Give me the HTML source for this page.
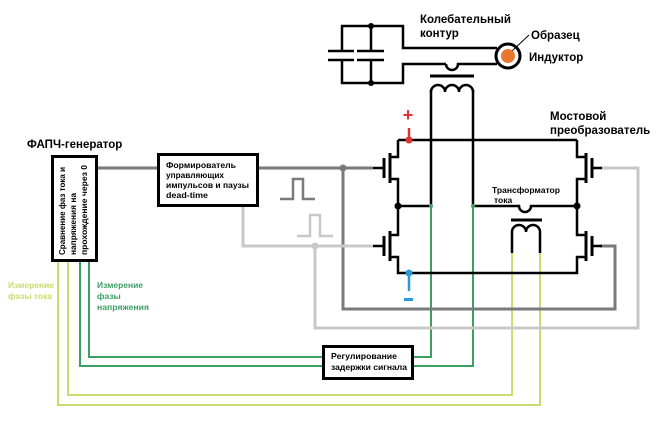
<!DOCTYPE html>
<html><head><meta charset="utf-8"><style>
html,body{margin:0;padding:0;background:#fff;}
svg{display:block;font-family:"Liberation Sans",sans-serif;font-weight:bold;}
</style></head><body>
<svg width="670" height="421" viewBox="0 0 670 421" xmlns="http://www.w3.org/2000/svg">
<rect width="670" height="421" fill="#fff"/>
<g fill="none" stroke-linejoin="miter">
<polyline points="68,261 68,395 512,395 512,253" stroke="#c9dc6f" stroke-width="2"/>
<polyline points="58,261 58,405 540,405 540,253" stroke="#c9dc6f" stroke-width="2"/>
<polyline points="89,261 89,357 323,357" stroke="#3c9f63" stroke-width="2"/>
<polyline points="80,261 80,366 323,366" stroke="#3c9f63" stroke-width="2"/>
<polyline points="413,357 431,357 431,206" stroke="#3c9f63" stroke-width="2"/>
<polyline points="413,366 473,366 473,206" stroke="#3c9f63" stroke-width="2"/>
<polyline points="97,168 158,168" stroke="#7a7a7a" stroke-width="3"/>
<polyline points="258,168 373,168" stroke="#7a7a7a" stroke-width="3"/>
<polyline points="343,168 343,309 615,309 615,246 600,246" stroke="#7a7a7a" stroke-width="3"/>
<polyline points="243,206 243,246 373,246" stroke="#c8c8c8" stroke-width="3"/>
<polyline points="315,246 315,328 638,328 638,168 600,168" stroke="#c8c8c8" stroke-width="3"/>
<polyline points="280,199 293,199 293,179 303,179 303,199 315,199" stroke="#7a7a7a" stroke-width="2.5"/>
<polyline points="297,236 310,236 310,215 320,215 320,236 333,236" stroke="#c8c8c8" stroke-width="2.5"/>
</g>
<circle cx="343" cy="168" r="3.5" fill="#7a7a7a"/>
<circle cx="315" cy="246" r="3.5" fill="#c8c8c8"/>
<g fill="none" stroke="#000" stroke-width="2.5">
<polyline points="398,140 577,140"/>
<polyline points="398,140 398,157 390,157"/>
<polyline points="390,179 398,179 398,235 390,235"/>
<polyline points="390,257 398,257 398,273 577,273 577,257 586,257"/>
<polyline points="577,140 577,157 586,157"/>
<polyline points="586,179 577,179 577,235 586,235"/>
<line x1="390" y1="153" x2="390" y2="183" stroke-width="3"/>
<line x1="384" y1="158" x2="384" y2="178" stroke-width="3"/>
<line x1="373" y1="168" x2="384" y2="168"/>
<line x1="390" y1="231" x2="390" y2="261" stroke-width="3"/>
<line x1="384" y1="236" x2="384" y2="256" stroke-width="3"/>
<line x1="373" y1="246" x2="384" y2="246"/>
<line x1="586" y1="153" x2="586" y2="183" stroke-width="3"/>
<line x1="592" y1="158" x2="592" y2="178" stroke-width="3"/>
<line x1="592" y1="168" x2="602" y2="168"/>
<line x1="586" y1="231" x2="586" y2="261" stroke-width="3"/>
<line x1="592" y1="236" x2="592" y2="256" stroke-width="3"/>
<line x1="592" y1="246" x2="602" y2="246"/>
<line x1="398" y1="206" x2="431" y2="206"/>
<path d="M473,206 H519 A6,6 0 0 0 531,206 H577"/>
<line x1="511" y1="220" x2="542" y2="220" stroke-width="3"/>
<path d="M512,253 V232 A7,7 0 0 1 526,232 A7,7 0 0 1 540,232 V253"/>
<line x1="431" y1="90" x2="431" y2="206"/>
<line x1="473" y1="90" x2="473" y2="206"/>
<path d="M431,92 A7,7 0 0 1 445,92 A7,7 0 0 1 459,92 A7,7 0 0 1 473,92"/>
<line x1="430" y1="76" x2="474" y2="76" stroke-width="3"/>
<polyline points="342,51 342,26 403,26 403,48 497,48"/>
<polyline points="342,60 342,83 403,83 403,64 446,64"/>
<path d="M446,64 A6,6 0 0 0 458,64 H497"/>
<line x1="371" y1="26" x2="371" y2="51"/>
<line x1="371" y1="60" x2="371" y2="83"/>
<line x1="328" y1="51" x2="354" y2="51"/>
<line x1="328" y1="60" x2="354" y2="60"/>
<line x1="357" y1="51" x2="384" y2="51"/>
<line x1="357" y1="60" x2="384" y2="60"/>
<circle cx="508" cy="56" r="12" fill="#fff" stroke-width="3"/>
<line x1="511" y1="52" x2="529" y2="35" stroke-width="1"/>
</g>
<circle cx="508" cy="56" r="7" fill="#e8782e"/>
<circle cx="371" cy="26" r="3" fill="#000"/>
<circle cx="371" cy="83" r="3" fill="#000"/>
<circle cx="398" cy="206" r="3.5" fill="#000"/>
<circle cx="577" cy="206" r="3.5" fill="#000"/>
<circle cx="431" cy="206" r="2" fill="#3c9f63"/>
<circle cx="473" cy="206" r="2" fill="#3c9f63"/>
<line x1="409" y1="128" x2="409" y2="140" stroke="#d33" stroke-width="2.5"/>
<circle cx="409" cy="140" r="3.5" fill="#d33"/>
<text x="408" y="121" fill="#d33" font-size="18" text-anchor="middle">+</text>
<line x1="409" y1="273" x2="409" y2="291" stroke="#2a9ad8" stroke-width="2.5"/>
<circle cx="409" cy="273" r="3.5" fill="#2a9ad8"/>
<rect x="404" y="298" width="9" height="3" fill="#2a9ad8"/>
<rect x="52.5" y="156.5" width="44" height="104" fill="#fff" stroke="#000" stroke-width="3"/>
<g font-size="8.5" fill="#000" transform="translate(65,255) rotate(-90)">
<text x="0" y="0" textLength="88" lengthAdjust="spacingAndGlyphs">Сравнение фаз тока и</text>
<text x="0" y="11" textLength="62" lengthAdjust="spacingAndGlyphs">напряжения на</text>
<text x="0" y="22" textLength="90" lengthAdjust="spacingAndGlyphs">прохождение через 0</text>
</g>
<rect x="158.5" y="154.5" width="99" height="51" fill="#fff" stroke="#000" stroke-width="3"/>
<g font-size="8.5" fill="#000">
<text x="166" y="168" textLength="70" lengthAdjust="spacingAndGlyphs">Формирователь</text>
<text x="166" y="178" textLength="58" lengthAdjust="spacingAndGlyphs">управляющих</text>
<text x="166" y="188" textLength="83" lengthAdjust="spacingAndGlyphs">импульсов и паузы</text>
<text x="166" y="198" textLength="42" lengthAdjust="spacingAndGlyphs">dead-time</text>
</g>
<rect x="323.5" y="346.5" width="89" height="32" fill="#fff" stroke="#000" stroke-width="3"/>
<g font-size="8.5" fill="#000">
<text x="331" y="359" textLength="66" lengthAdjust="spacingAndGlyphs">Регулирование</text>
<text x="331" y="370" textLength="76" lengthAdjust="spacingAndGlyphs">задержки сигнала</text>
</g>
<g font-size="11.5" fill="#000">
<text x="27" y="148">ФАПЧ-генератор</text>
<text x="420" y="23">Колебательный</text>
<text x="420" y="37">контур</text>
<text x="531" y="39">Образец</text>
<text x="529" y="61">Индуктор</text>
<text x="550" y="120">Мостовой</text>
<text x="550" y="134">преобразователь</text>
</g>
<g font-size="8.5" fill="#000">
<text x="492" y="193" textLength="68" lengthAdjust="spacingAndGlyphs">Трансформатор</text>
<text x="494" y="203">тока</text>
</g>
<g font-size="8.5" fill="#c9dc6f">
<text x="8" y="288" textLength="46" lengthAdjust="spacingAndGlyphs">Измерение</text>
<text x="8" y="299" textLength="44" lengthAdjust="spacingAndGlyphs">фазы тока</text>
</g>
<g font-size="8.5" fill="#3c9f63">
<text x="97" y="288" textLength="46" lengthAdjust="spacingAndGlyphs">Измерение</text>
<text x="97" y="299">фазы</text>
<text x="97" y="310" textLength="52" lengthAdjust="spacingAndGlyphs">напряжения</text>
</g>
</svg>
</body></html>
